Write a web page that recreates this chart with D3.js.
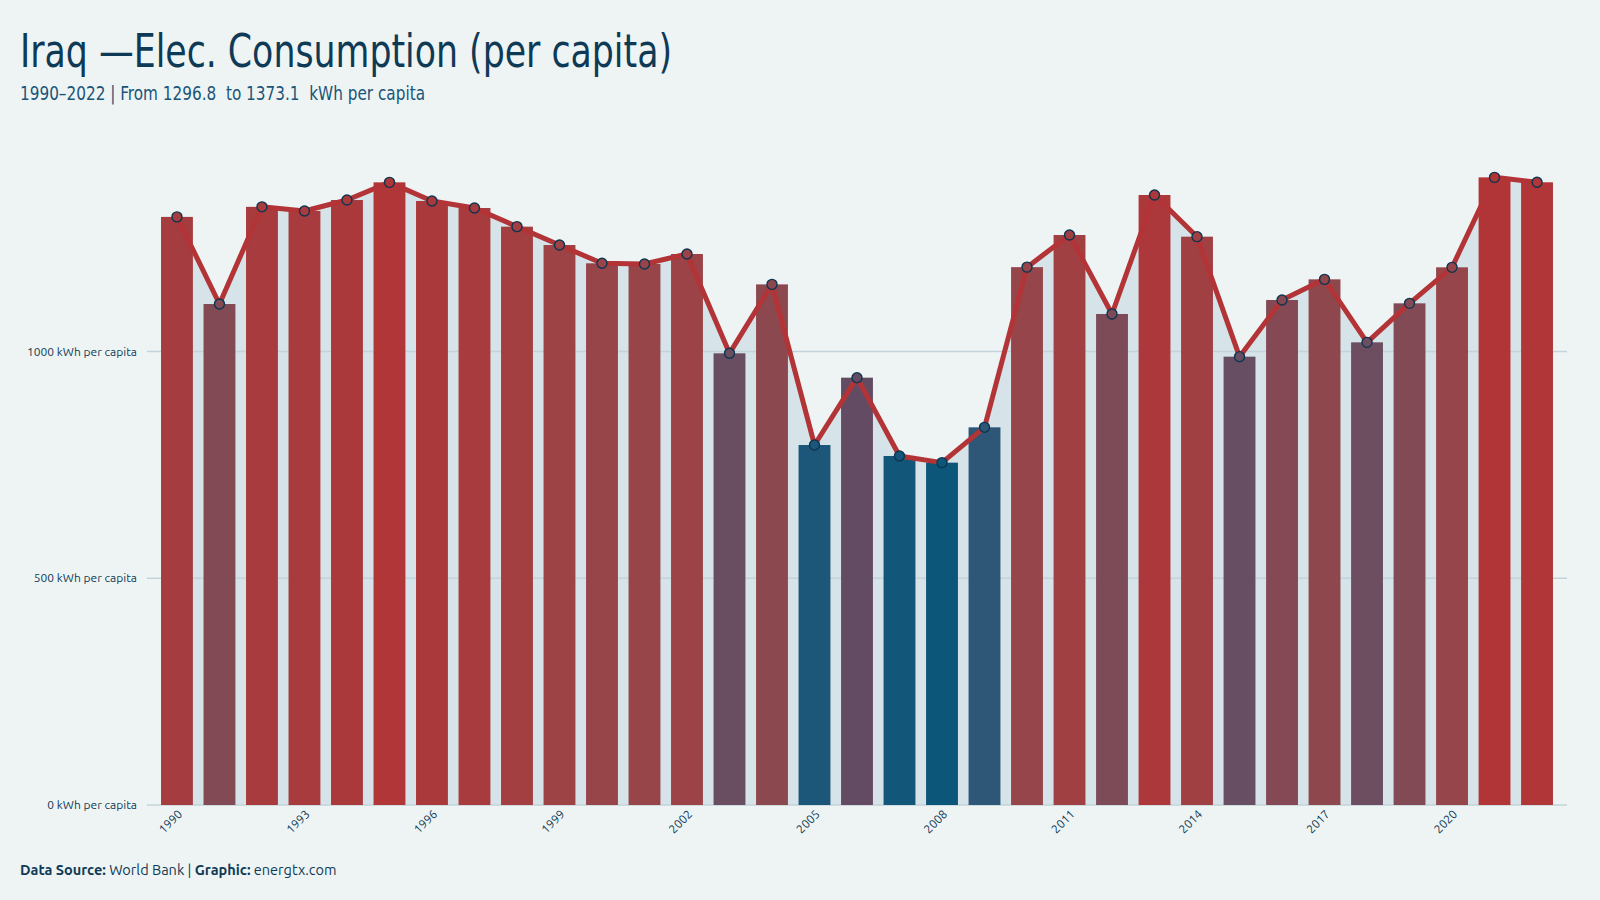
<!DOCTYPE html>
<html>
<head>
<meta charset="utf-8">
<script src="https://cdn.jsdelivr.net/npm/d3@7"></script>
<style>
  html, body { margin: 0; padding: 0; background: #eef4f4; }
  svg { display: block; }
</style>
</head>
<body>
<svg id="chart" width="1600" height="900"></svg>
<script>
const years = [1990,1991,1992,1993,1994,1995,1996,1997,1998,1999,2000,2001,2002,2003,2004,2005,2006,2007,2008,2009,2010,2011,2012,2013,2014,2015,2016,2017,2018,2019,2020,2021,2022];
const values = [1296.8,1104.7,1319.0,1309.8,1334.0,1373.0,1331.9,1316.4,1275.3,1234.8,1194.5,1193.0,1215.0,996.0,1148.0,793.8,942.3,769.6,754.9,832.8,1186.0,1256.9,1082.7,1345.1,1253.2,988.6,1113.6,1159.1,1020.2,1106.2,1185.6,1384.0,1373.1];
const yTicks = [0, 500, 1000];
const xTickYears = [1990,1993,1996,1999,2002,2005,2008,2011,2014,2017,2020];
const titleText = "Iraq —Elec. Consumption (per capita)";
const subtitleText = "1990–2022 | From 1296.8  to 1373.1  kWh per capita";
const unitLabel = "kWh per capita";

const data = years.map((y, i) => ({ year: y, value: values[i] }));

const svg = d3.select("#chart");
const navy = "#0f3a56";
const lineRed = "#b23437";

svg.append("rect").attr("width", 1600).attr("height", 900).attr("fill", "#eef4f4");

const x = d3.scaleBand().domain(years).range([147, 1567]).paddingInner(0.25).paddingOuter(0.33);
const y = d3.scaleLinear().domain([0, 1000]).range([805, 351.5]);

const vmin = d3.min(values), vmax = d3.max(values);
const color = d3.scaleLinear()
  .domain([0, 0.12, 0.30, 0.40, 0.70, 1].map(t => vmin + (vmax - vmin) * t))
  .range(["#0c5679", "#2c5677", "#644c63", "#6a4f62", "#984549", "#b13537"])
  .interpolate(d3.interpolateRgb);

// Area behind bars
const cx = d => x(d.year) + x.bandwidth() / 2;
svg.append("path")
  .datum(data)
  .attr("fill", "#d6e3e8")
  .attr("d", d3.area().x(cx).y0(y(0)).y1(d => y(d.value)));

// Gridlines
svg.append("g").selectAll("line").data(yTicks).join("line")
  .attr("x1", 147).attr("x2", 1567)
  .attr("y1", d => y(d)).attr("y2", d => y(d))
  .attr("stroke", "#c3d3d9").attr("stroke-width", 1.5);

// Y labels
svg.append("g").selectAll("text").data(yTicks).join("text")
  .attr("x", 137).attr("y", d => y(d)).attr("dy", "0.35em")
  .attr("text-anchor", "end")
  .attr("font-family", "Ubuntu, 'Noto Sans', 'Open Sans', sans-serif")
  .attr("font-size", 12).attr("fill", navy)
  .text(d => `${d} ${unitLabel}`);

// Bars
svg.append("g").selectAll("rect").data(data).join("rect")
  .attr("x", d => x(d.year)).attr("width", x.bandwidth())
  .attr("y", d => y(d.value)).attr("height", d => y(0) - y(d.value))
  .attr("fill", d => color(d.value));

// Line
svg.append("path").datum(data)
  .attr("fill", "none").attr("stroke", lineRed).attr("stroke-width", 5)
  .attr("stroke-linejoin", "round")
  .attr("d", d3.line().x(cx).y(d => y(d.value)));

// Points
svg.append("g").selectAll("circle").data(data).join("circle")
  .attr("cx", cx).attr("cy", d => y(d.value)).attr("r", 5)
  .attr("fill", d => color(d.value))
  .attr("stroke", "#0d3550").attr("stroke-width", 1.4);

// X labels
svg.append("g").selectAll("text").data(xTickYears).join("text")
  .attr("transform", d => `translate(${x(d) + x.bandwidth() / 2 + 6},${815}) rotate(-45)`)
  .attr("text-anchor", "end")
  .attr("font-family", "Ubuntu, 'Noto Sans', 'Open Sans', sans-serif")
  .attr("font-size", 12).attr("fill", navy)
  .text(d => d);

// Title
svg.append("text").attr("x", 20).attr("y", 67)
  .attr("font-family", "'Ubuntu Condensed', 'Liberation Sans Narrow', 'DejaVu Sans Condensed', sans-serif")
  .attr("font-size", 46).attr("fill", navy)
  .attr("textLength", 652).attr("lengthAdjust", "spacingAndGlyphs")
  .text(titleText);

svg.append("text").attr("x", 20).attr("y", 100)
  .attr("font-family", "'Ubuntu Condensed', 'Liberation Sans Narrow', 'DejaVu Sans Condensed', sans-serif")
  .attr("font-size", 20).attr("fill", "#1b5479")
  .attr("textLength", 405).attr("lengthAdjust", "spacingAndGlyphs")
  .attr("xml:space", "preserve").style("white-space", "pre")
  .text(subtitleText);

// Footer
const foot = svg.append("text").attr("x", 20).attr("y", 875)
  .attr("font-family", "Ubuntu, 'Noto Sans', 'Open Sans', sans-serif")
  .attr("font-size", 14.5).attr("fill", navy);
foot.append("tspan").attr("font-weight", "bold").text("Data Source:");
foot.append("tspan").text(" World Bank | ");
foot.append("tspan").attr("font-weight", "bold").text("Graphic:");
foot.append("tspan").text(" energtx.com");
</script>
</body>
</html>
